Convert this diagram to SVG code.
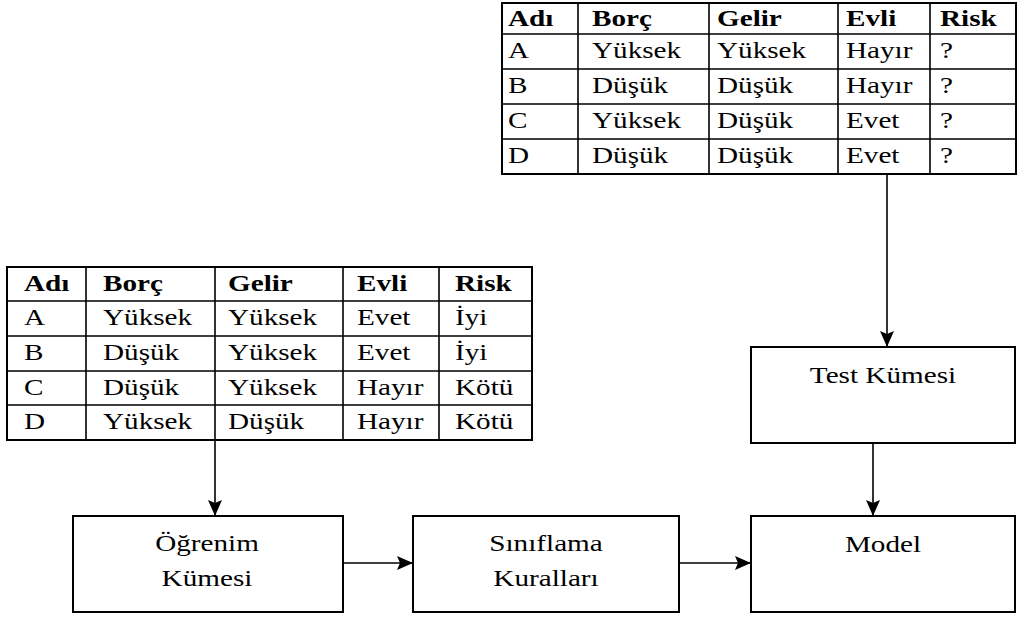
<svg xmlns="http://www.w3.org/2000/svg" width="1018" height="617" viewBox="0 0 1018 617">
  <style>
    .bg { fill: #ffffff; }
    .frame { fill: none; stroke: #000; stroke-width: 2; }
    .grid { fill: none; stroke: #000; stroke-width: 1.6; }
    .box { fill: #fff; stroke: #000; stroke-width: 2; }
    .t { font-family: "Liberation Serif", "Times New Roman", serif; font-size: 23px; fill: #000; }
    .h { font-weight: bold; }
    .c { text-anchor: middle; }
    .edge { fill: none; stroke: #000; stroke-width: 1.6; }
  </style>
  <defs>
    <marker id="arrow" viewBox="0 0 16 14" markerWidth="16" markerHeight="14" refX="16" refY="7" orient="auto" markerUnits="userSpaceOnUse">
      <path d="M0,0 L16,7 L0,14 L3,7 z" fill="#000"/>
    </marker>
  </defs>
  <rect class="bg" x="0" y="0" width="1018" height="617"/>

  <!-- test data table (top right) -->
  <g id="test-table">
    <rect class="frame" x="502" y="3" width="514" height="171"/>
    <path class="grid" d="M502,34 H1016 M502,69 H1016 M502,104 H1016 M502,139 H1016 M578,3 V174 M709,3 V174 M838,3 V174 M930,3 V174"/>
    <text class="t h" transform="translate(508 26) scale(1.27 1)">Adı</text>
    <text class="t h" transform="translate(592 26) scale(1.27 1)">Borç</text>
    <text class="t h" transform="translate(717 26) scale(1.27 1)">Gelir</text>
    <text class="t h" transform="translate(846 26) scale(1.27 1)">Evli</text>
    <text class="t h" transform="translate(940 26) scale(1.27 1)">Risk</text>

    <text class="t" transform="translate(508 58) scale(1.27 1)">A</text>
    <text class="t" transform="translate(592 58) scale(1.27 1)">Yüksek</text>
    <text class="t" transform="translate(717 58) scale(1.27 1)">Yüksek</text>
    <text class="t" transform="translate(846 58) scale(1.27 1)">Hayır</text>
    <text class="t" transform="translate(940 58) scale(1.27 1)">?</text>

    <text class="t" transform="translate(508 93) scale(1.27 1)">B</text>
    <text class="t" transform="translate(592 93) scale(1.27 1)">Düşük</text>
    <text class="t" transform="translate(717 93) scale(1.27 1)">Düşük</text>
    <text class="t" transform="translate(846 93) scale(1.27 1)">Hayır</text>
    <text class="t" transform="translate(940 93) scale(1.27 1)">?</text>

    <text class="t" transform="translate(508 128) scale(1.27 1)">C</text>
    <text class="t" transform="translate(592 128) scale(1.27 1)">Yüksek</text>
    <text class="t" transform="translate(717 128) scale(1.27 1)">Düşük</text>
    <text class="t" transform="translate(846 128) scale(1.27 1)">Evet</text>
    <text class="t" transform="translate(940 128) scale(1.27 1)">?</text>

    <text class="t" transform="translate(508 163) scale(1.27 1)">D</text>
    <text class="t" transform="translate(592 163) scale(1.27 1)">Düşük</text>
    <text class="t" transform="translate(717 163) scale(1.27 1)">Düşük</text>
    <text class="t" transform="translate(846 163) scale(1.27 1)">Evet</text>
    <text class="t" transform="translate(940 163) scale(1.27 1)">?</text>
  </g>

  <!-- training data table (left) -->
  <g id="train-table">
    <rect class="frame" x="7" y="267" width="525" height="173"/>
    <path class="grid" d="M7,301 H532 M7,336 H532 M7,371 H532 M7,405 H532 M86,267 V440 M215,267 V440 M343,267 V440 M439,267 V440"/>
    <text class="t h" transform="translate(24 291) scale(1.27 1)">Adı</text>
    <text class="t h" transform="translate(103 291) scale(1.27 1)">Borç</text>
    <text class="t h" transform="translate(228 291) scale(1.27 1)">Gelir</text>
    <text class="t h" transform="translate(357 291) scale(1.27 1)">Evli</text>
    <text class="t h" transform="translate(455 291) scale(1.27 1)">Risk</text>

    <text class="t" transform="translate(24 325) scale(1.27 1)">A</text>
    <text class="t" transform="translate(103 325) scale(1.27 1)">Yüksek</text>
    <text class="t" transform="translate(228 325) scale(1.27 1)">Yüksek</text>
    <text class="t" transform="translate(357 325) scale(1.27 1)">Evet</text>
    <text class="t" transform="translate(455 325) scale(1.27 1)">İyi</text>

    <text class="t" transform="translate(24 360) scale(1.27 1)">B</text>
    <text class="t" transform="translate(103 360) scale(1.27 1)">Düşük</text>
    <text class="t" transform="translate(228 360) scale(1.27 1)">Yüksek</text>
    <text class="t" transform="translate(357 360) scale(1.27 1)">Evet</text>
    <text class="t" transform="translate(455 360) scale(1.27 1)">İyi</text>

    <text class="t" transform="translate(24 395) scale(1.27 1)">C</text>
    <text class="t" transform="translate(103 395) scale(1.27 1)">Düşük</text>
    <text class="t" transform="translate(228 395) scale(1.27 1)">Yüksek</text>
    <text class="t" transform="translate(357 395) scale(1.27 1)">Hayır</text>
    <text class="t" transform="translate(455 395) scale(1.27 1)">Kötü</text>

    <text class="t" transform="translate(24 429) scale(1.27 1)">D</text>
    <text class="t" transform="translate(103 429) scale(1.27 1)">Yüksek</text>
    <text class="t" transform="translate(228 429) scale(1.27 1)">Düşük</text>
    <text class="t" transform="translate(357 429) scale(1.27 1)">Hayır</text>
    <text class="t" transform="translate(455 429) scale(1.27 1)">Kötü</text>
  </g>

  <!-- process boxes -->
  <g id="ogrenim-kumesi">
    <rect class="box" x="73" y="516" width="270" height="96"/>
    <text class="t c" transform="translate(207 551) scale(1.27 1)">Öğrenim</text>
    <text class="t c" transform="translate(207 586) scale(1.27 1)">Kümesi</text>
  </g>
  <g id="siniflama-kurallari">
    <rect class="box" x="413" y="516" width="266" height="96"/>
    <text class="t c" transform="translate(546 551) scale(1.27 1)">Sınıflama</text>
    <text class="t c" transform="translate(546 586) scale(1.27 1)">Kuralları</text>
  </g>
  <g id="test-kumesi">
    <rect class="box" x="751" y="347" width="264" height="96"/>
    <text class="t c" transform="translate(883 383) scale(1.27 1)">Test Kümesi</text>
  </g>
  <g id="model">
    <rect class="box" x="751" y="516" width="264" height="96"/>
    <text class="t c" transform="translate(883 552) scale(1.27 1)">Model</text>
  </g>

  <!-- connectors -->
  <g id="connectors">
    <path class="edge" d="M887,174 V347" marker-end="url(#arrow)"/>
    <path class="edge" d="M873,443 V516" marker-end="url(#arrow)"/>
    <path class="edge" d="M215,440 V516" marker-end="url(#arrow)"/>
    <path class="edge" d="M343,563 H413" marker-end="url(#arrow)"/>
    <path class="edge" d="M679,563 H751" marker-end="url(#arrow)"/>
  </g>
</svg>
